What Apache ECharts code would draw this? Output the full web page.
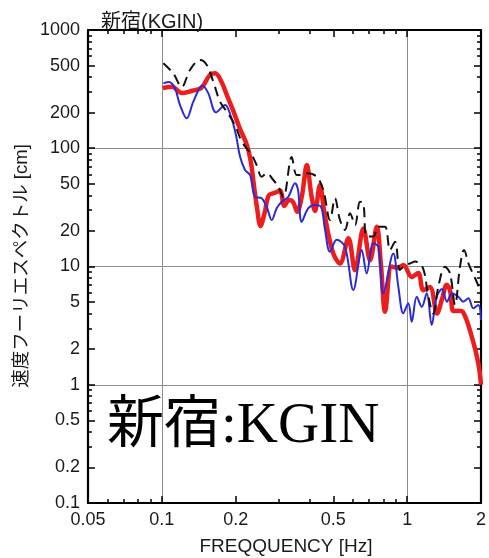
<!DOCTYPE html>
<html>
<head>
<meta charset="utf-8">
<script src="https://cdn.jsdelivr.net/npm/echarts@6/dist/echarts.min.js"></script>
<style>
  html, body { margin: 0; padding: 0; background: #fff; }
  #chart { width: 489px; height: 558px; }
</style>
</head>
<body>
<div id="chart"></div>
<script>
// Velocity Fourier spectra at Shinjuku (KGIN), frequency [Hz] vs amplitude [cm]
const redFreq = [0.101, 0.110, 0.1205, 0.132, 0.145, 0.157, 0.165, 0.175, 0.184, 0.196, 0.208, 0.222, 0.231, 0.2375, 0.244, 0.2525,
  0.263, 0.273, 0.289, 0.303, 0.316, 0.330, 0.343, 0.356, 0.372, 0.390, 0.407, 0.421, 0.441, 0.458, 0.480, 0.503, 0.532,
  0.576, 0.613, 0.663, 0.706, 0.752, 0.782, 0.813, 0.865, 0.918, 0.965, 1.044, 1.11, 1.164, 1.239, 1.324, 1.384, 1.45,
  1.495, 1.543, 1.612, 1.69, 1.834, 1.95, 2.0];
const redAmp = [323, 331, 293, 305, 325, 416, 430, 365, 282, 204, 147, 107, 75, 48, 32, 22,
  29, 40, 42, 44, 32.5, 36.5, 35, 29, 39, 72, 40, 29.5, 49, 30, 17.8, 12.5, 10.6,
  17.3, 9.3, 21, 11.3, 21.7, 10.3, 4.15, 10, 9.7, 10.3, 8.15, 8.8, 6.3, 6.7, 4.0, 5.2, 7.0,
  6.3, 4.2, 4.23, 4.12, 2.55, 1.52, 1.0];

const blueFreq = [0.1014, 0.1069, 0.1131, 0.1186, 0.1263, 0.1344, 0.1464, 0.1547, 0.1663, 0.181, 0.1914, 0.2006, 0.2083,
  0.2183, 0.2288, 0.2398, 0.2553, 0.2676, 0.2805, 0.2939, 0.308, 0.3277, 0.349, 0.359, 0.3716, 0.3955, 0.4211, 0.4457,
  0.4627, 0.4848, 0.5162, 0.558, 0.6034, 0.653, 0.684, 0.728, 0.7631, 0.7995, 0.878, 0.9204, 0.9647, 1.011, 1.044, 1.094,
  1.147, 1.202, 1.259, 1.32, 1.387, 1.453, 1.524, 1.617, 1.694, 1.776, 1.861, 1.95, 2.0];
const blueAmp = [354, 363, 321, 232, 179, 248, 339, 291, 201, 232, 185, 129, 85,
  65.5, 59.4, 38.9, 37.7, 32, 24.7, 31.1, 35.3, 38.9, 50.5, 44.4, 23.9, 31.1, 33.1, 31.9,
  20.4, 13.3, 16.8, 14.7, 6.33, 13.8, 8.76, 15.7, 14.7, 5.94, 12.9, 6.75, 4.02, 4.88, 3.41, 5.55,
  4.57, 5.94, 3.2, 5.55, 6.45, 5.04, 5.94, 5.55, 5.04, 5.38, 4.43, 4.73, 3.53];

const blackFreq = [0.1014, 0.1113, 0.1205, 0.1302, 0.1431, 0.1524, 0.1621, 0.1726, 0.1838, 0.1987, 0.2117, 0.2325, 0.2436,
  0.2553, 0.2676, 0.2847, 0.2984, 0.3128, 0.3384, 0.3546, 0.3716, 0.3906, 0.4278, 0.4551, 0.4848, 0.508, 0.5323, 0.558,
  0.5851, 0.6132, 0.6426, 0.6628, 0.684, 0.728, 0.7631, 0.8125, 0.8513, 0.8922, 0.9352, 0.98, 1.027, 1.077, 1.16, 1.22,
  1.278, 1.34, 1.426, 1.495, 1.567, 1.642, 1.705, 1.787, 1.891, 2.0];
const blackAmp = [523, 430, 330, 459, 557, 506, 365, 248, 204, 157, 114, 87.7, 72,
  57.5, 61.4, 53.9, 47.3, 38.7, 84.3, 59.4, 59.4, 61.4, 57.5, 44.4, 24.7, 37.7, 24.7, 20.4,
  28.2, 22.4, 35.3, 34.2, 17.9, 17.9, 21.7, 21.7, 13.8, 16.2, 9.34, 10.3, 10.6, 11, 9.7, 5.55,
  4.0, 6.75, 9.96, 8.76, 4.73, 9.96, 13.8, 10.3, 7.99, 6.09];

// Axis ranges and tick positions
const xRange = [0.05, 2];
const yRange = [0.1, 1000];
const xMajor = [0.05, 0.1, 0.2, 0.5, 1, 2];
const xMinor = [0.06, 0.07, 0.08, 0.09, 0.3, 0.4, 0.6, 0.7, 0.8, 0.9];
const yMajor = [0.1, 0.2, 0.5, 1, 2, 5, 10, 20, 50, 100, 200, 500, 1000];
const yMinor = [0.3, 0.4, 0.6, 0.7, 0.8, 0.9, 3, 4, 6, 7, 8, 9, 30, 40, 60, 70, 80, 90, 300, 400, 600, 700, 800, 900];

const titleText = '新宿(KGIN)';
const stationText = '新宿:KGIN';
const yName = '速度フーリエスペクトル [cm]';
const xName = 'FREQQUENCY [Hz]';

const SANS = "'Liberation Sans', 'Noto Sans CJK JP', sans-serif";
const SERIF = "'Liberation Serif', 'Noto Sans CJK JP', serif";

const pair = (fs, as) => fs.map((f, i) => [f, as[i]]);
const fmt = v => String(+Number(v).toPrecision(4));

// one log axis layer: frame line, tick set, labels or grid lines
function logAxis(range, position, o) {
  return {
    type: 'log', logBase: 10, min: range[0], max: range[1], position: position,
    axisLine: { show: !!o.line, onZero: false, lineStyle: { color: '#000', width: 2.2 } },
    axisTick: o.ticks
      ? { show: true, inside: true, length: o.len, customValues: o.ticks, lineStyle: { color: '#000', width: 1.5 } }
      : { show: false },
    axisLabel: o.labels
      ? { show: true, customValues: o.labels, formatter: fmt, margin: 8, color: '#1a1a1a', fontSize: 18, fontFamily: SANS }
      : { show: false },
    splitLine: { show: !!o.split, lineStyle: { color: '#8c8c8c', width: 1 } },
    minorTick: { show: false }, minorSplitLine: { show: false }
  };
}

const chart = echarts.init(document.getElementById('chart'), null, { renderer: 'canvas' });
chart.setOption({
  animation: false,
  backgroundColor: '#fff',
  title: {
    text: titleText, left: 96, top: 7,
    textStyle: { fontSize: 20, fontWeight: 'normal', color: '#1a1a1a', fontFamily: SANS }
  },
  grid: { left: 88, right: 8, top: 30, bottom: 55, containLabel: false, outerBoundsMode: 'none' },
  xAxis: [
    logAxis(xRange, 'bottom', { line: true, ticks: xMajor, len: 7, labels: xMajor }),
    logAxis(xRange, 'bottom', { ticks: xMinor, len: 4 }),
    logAxis(xRange, 'top', { line: true, ticks: xMajor, len: 7 }),
    logAxis(xRange, 'top', { ticks: xMinor, len: 4 }),
    logAxis(xRange, 'bottom', { split: true })
  ],
  yAxis: [
    logAxis(yRange, 'left', { line: true, ticks: yMajor, len: 7, labels: yMajor }),
    logAxis(yRange, 'left', { ticks: yMinor, len: 4 }),
    logAxis(yRange, 'right', { line: true, ticks: yMajor, len: 7 }),
    logAxis(yRange, 'right', { ticks: yMinor, len: 4 }),
    logAxis(yRange, 'left', { split: true })
  ],
  graphic: [
    {
      type: 'text', left: 107, top: 399, z: 10,
      style: { text: stationText, font: '57px ' + SERIF, fill: '#000' }
    },
    {
      type: 'text', x: 22, y: 266, rotation: Math.PI / 2,
      style: { text: yName, font: '18.5px ' + SANS, fill: '#1a1a1a', align: 'center', verticalAlign: 'middle' }
    },
    {
      type: 'text', x: 286, y: 547,
      style: { text: xName, font: '19px ' + SANS, fill: '#1a1a1a', align: 'center', verticalAlign: 'middle' }
    }
  ],
  series: [
    {
      name: 'red', type: 'line', data: pair(redFreq, redAmp), smooth: 0.35, showSymbol: false,
      lineStyle: { color: '#ee1d1d', width: 4.5 }, z: 3
    },
    {
      name: 'blue', type: 'line', data: pair(blueFreq, blueAmp), smooth: 0.35, showSymbol: false,
      lineStyle: { color: '#2b2bd6', width: 2 }, z: 4
    },
    {
      name: 'black', type: 'line', data: pair(blackFreq, blackAmp), smooth: 0.35, showSymbol: false,
      lineStyle: { color: '#111', width: 2, type: [10, 6] }, z: 5
    }
  ]
});
</script>
</body>
</html>
